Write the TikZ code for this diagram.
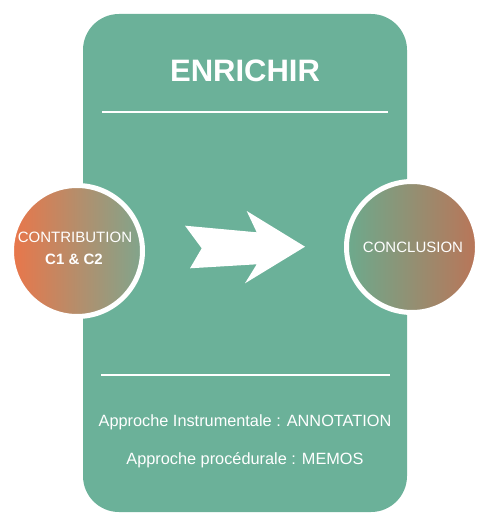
\documentclass[tikz,border=0pt]{standalone}
\usepackage{fontspec}
\setmainfont{Liberation Sans}
\usetikzlibrary{shapes.geometric}
\definecolor{panel}{RGB}{107,177,153}
\definecolor{orangeA}{RGB}{234,118,74}
\definecolor{greyG}{RGB}{128,165,140}
\definecolor{greenB}{RGB}{108,170,141}
\definecolor{brownB}{RGB}{186,117,88}
\tikzset{
  panelbox/.style={rectangle, rounded corners=36pt, fill=panel, minimum width=324pt, minimum height=498pt, inner sep=0pt},
  bubble/.style={circle, minimum size=131pt, inner sep=0pt, draw=white, line width=5pt},
  whitetxt/.style={text=white, inner sep=0pt, align=center},
  sepline/.style={draw=white, line width=1.6pt},
}
\begin{document}
\begin{tikzpicture}[x=1pt,y=-1pt]
\useasboundingbox (0,0) rectangle (476,516);
\node[panelbox] (panel) at (245,263) {};
\node[whitetxt, font=\fontsize{31}{36}\selectfont\bfseries] (title) at (245,71) {ENRICHIR};
\coordinate (l1a) at (102,112);
\coordinate (l1b) at (388,112);
\coordinate (l2a) at (101,375);
\coordinate (l2b) at (390,375);
\draw[sepline] (l1a) -- (l1b);
\draw[sepline] (l2a) -- (l2b);
\node[bubble, left color=orangeA, right color=greyG] (contrib) at (77,251) {};
\node[whitetxt, font=\fontsize{15}{18}\selectfont] (ct) at (75,237) {CONTRIBUTION};
\node[whitetxt, font=\fontsize{15}{18}\selectfont\bfseries] (cc) at (74,259) {C1 \& C2};
\node[bubble, left color=greenB, right color=brownB] (concl) at (412,247) {};
\node[whitetxt, font=\fontsize{15}{18}\selectfont] (cl) at (413,247) {CONCLUSION};
\fill[white] (185,225.7) -- (256.7,232.3) -- (246.7,211) -- (305,246.7) -- (245,283.3) -- (256.7,264.3) -- (190,268.3) -- (201.7,248.3) -- cycle;
\node[whitetxt, font=\fontsize{16.3}{20}\selectfont] (ap1) at (245,422) {Approche Instrumentale : ANNOTATION};
\node[whitetxt, font=\fontsize{16.3}{20}\selectfont] (ap2) at (245,460) {Approche procédurale : MEMOS};
\end{tikzpicture}
\end{document}
